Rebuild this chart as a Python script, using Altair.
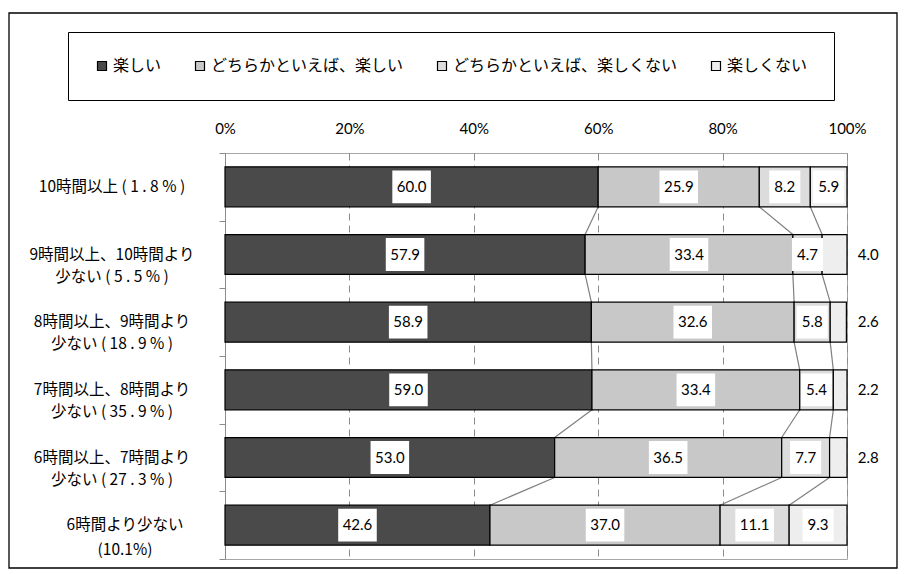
import altair as alt
import pandas as pd

categories = [
    "10時間以上 ( 1 . 8 % )",
    "9時間以上、10時間より\n少ない ( 5 . 5 % )",
    "8時間以上、9時間より\n少ない ( 18 . 9 % )",
    "7時間以上、8時間より\n少ない ( 35 . 9 % )",
    "6時間以上、7時間より\n少ない ( 27 . 3 % )",
    "6時間より少ない\n(10.1%)",
]
series = ["楽しい", "どちらかといえば、楽しい", "どちらかといえば、楽しくない", "楽しくない"]
s1 = [60.0, 57.9, 58.9, 59.0, 53.0, 42.6]
s2 = [25.9, 33.4, 32.6, 33.4, 36.5, 37.0]
s3 = [8.2, 4.7, 5.8, 5.4, 7.7, 11.1]
s4 = [5.9, 4.0, 2.6, 2.2, 2.8, 9.3]
fills = ["#4a4a4a", "#c8c8c8", "#dcdcdc", "#eeeeee"]
x_ticks = [0, 20, 40, 60, 80, 100]

values = [s1, s2, s3, s4]
rows = []
for r in range(len(categories)):
    cum = 0.0
    for k, name in enumerate(series):
        v = values[k][r]
        rows.append({"row": r, "series": name, "order": k, "value": v,
                     "start": cum, "end": cum + v, "label": f"{v:.1f}"})
        cum += v
df = pd.DataFrame(rows)

# connector lines between segment boundaries of consecutive bars
conn = []
for r in range(len(categories) - 1):
    for k in range(3):
        a = sum(values[j][r] for j in range(k + 1))
        b = sum(values[j][r + 1] for j in range(k + 1))
        conn.append({"row": r, "cx": a, "cx2": b})
conn_df = pd.DataFrame(conn)

cat_df = pd.DataFrame({"row": list(range(len(categories))), "label": categories})

xscale = alt.Scale(domain=[0, 100], nice=False, zero=True)
yscale = alt.Scale(domain=[0, 6], reverse=True, nice=False, zero=False)

xaxis = alt.Axis(orient="top", values=x_ticks, labelExpr="datum.value + '%'",
                 grid=True, gridDash=[7, 5], gridColor="#8c8c8c", gridWidth=1,
                 domain=False, ticks=False, labelFlush=False, labelFont="Lato",
                 labelFontSize=15, labelColor="#000000", labelPadding=17, title=None)
yaxis = alt.Axis(values=[0, 1, 2, 3, 4, 5, 6], labels=False, grid=False, tickSize=6,
                 tickColor="#8c8c8c", domainColor="#8c8c8c", title=None)

connectors = alt.Chart(conn_df).transform_calculate(
    cy="datum.row + 0.795", cy2="datum.row + 1.205"
).mark_rule(color="#7f7f7f", strokeWidth=1.2).encode(
    x=alt.X("cx:Q", scale=xscale, axis=xaxis),
    x2="cx2:Q",
    y=alt.Y("cy:Q", scale=yscale, axis=yaxis),
    y2="cy2:Q",
)

bars = alt.Chart(df).transform_calculate(
    y0="datum.row + 0.205", y1="datum.row + 0.795"
).mark_rect(stroke="black", strokeWidth=1.2).encode(
    x=alt.X("start:Q", scale=xscale),
    x2="end:Q",
    y=alt.Y("y0:Q", scale=yscale),
    y2="y1:Q",
    color=alt.Color("series:N", scale=alt.Scale(domain=series, range=fills),
                    legend=alt.Legend(orient="none", legendX=-157, legendY=-121,
                                      direction="horizontal", columns=4,
                                      symbolType="square", symbolSize=81,
                                      symbolStrokeColor="black", symbolStrokeWidth=1.2,
                                      labelFont="Noto Sans CJK JP", labelFontSize=16,
                                      labelColor="#000000", labelOffset=3,
                                      labelLimit=400, columnPadding=30, padding=26,
                                      strokeColor="black", title=None)),
)

boxes = alt.Chart(df).transform_filter("datum.value >= 4.5").transform_calculate(
    mid="(datum.start + datum.end) / 2",
    hw="length(datum.label) >= 4 ? 3.1 : 2.5",
).transform_calculate(
    bx="datum.mid - datum.hw", bx2="datum.mid + datum.hw",
    by="datum.row + 0.257", by2="datum.row + 0.743",
).mark_rect(fill="white", stroke=None).encode(
    x=alt.X("bx:Q", scale=xscale), x2="bx2:Q",
    y=alt.Y("by:Q", scale=yscale), y2="by2:Q",
)

texts = alt.Chart(df).transform_calculate(
    lx="datum.value >= 4.5 ? (datum.start + datum.end) / 2 : 103.4",
    yc="datum.row + 0.5",
).mark_text(font="Lato", fontSize=15, color="black", baseline="middle").encode(
    x=alt.X("lx:Q", scale=xscale),
    y=alt.Y("yc:Q", scale=yscale),
    text="label:N",
)

catlabels = alt.Chart(cat_df).transform_filter("datum.row < 5").transform_calculate(
    yc="datum.row + 0.5"
).mark_text(font="Noto Sans CJK JP", fontSize=15.5, color="black", align="center",
            baseline="middle", lineBreak="\n", lineHeight=22).encode(
    x=alt.value(-113),
    y=alt.Y("yc:Q", scale=yscale),
    text="label:N",
)
catlabels_last = alt.Chart(cat_df).transform_filter("datum.row >= 5").transform_calculate(
    yc="datum.row + 0.5"
).mark_text(font="Noto Sans CJK JP", fontSize=15.5, color="black", align="center",
            baseline="middle", lineBreak="\n", lineHeight=25).encode(
    x=alt.value(-100),
    y=alt.Y("yc:Q", scale=yscale),
    text="label:N",
)

border = alt.Chart(pd.DataFrame({"k": [0]})).mark_rect(
    fill="transparent", stroke="black", strokeWidth=1.3
).encode(
    x=alt.value(-216), x2=alt.value(672), y=alt.value(-140), y2=alt.value(415)
)

chart = alt.layer(connectors, bars, boxes, texts, catlabels, catlabels_last, border).properties(
    width=622, height=406,
    padding={"left": 217, "top": 145, "right": 51, "bottom": 12},
    autosize=alt.AutoSizeParams(type="none"),
    background="white",
).configure_view(stroke="#a6a6a6", strokeWidth=1)

chart.save("out.html", embed_options={"renderer": "svg", "actions": False})
